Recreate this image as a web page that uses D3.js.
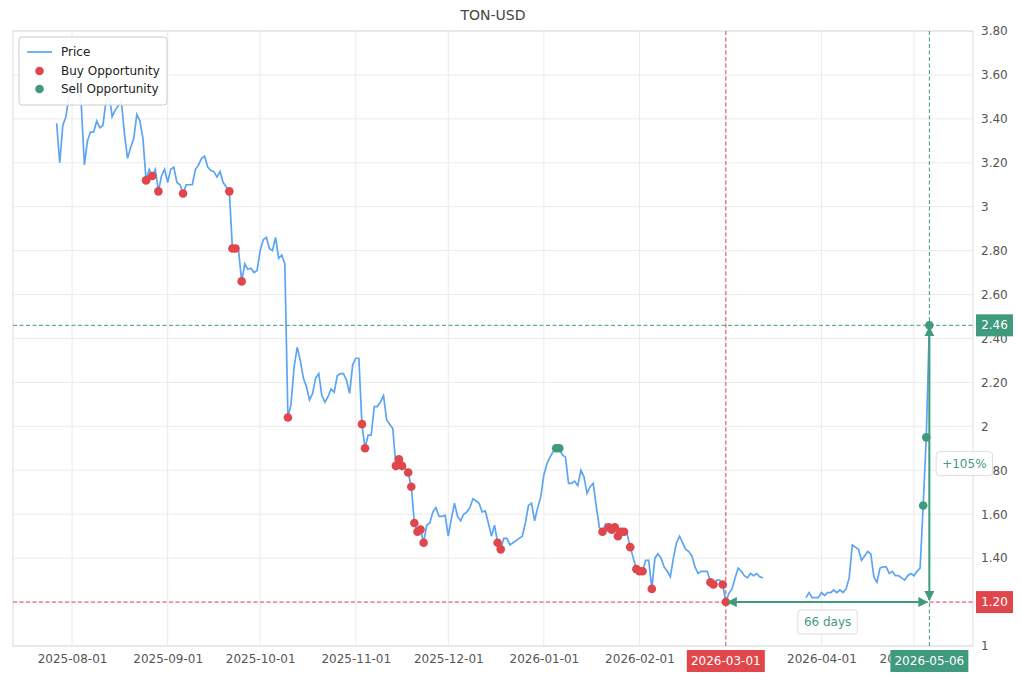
<!DOCTYPE html>
<html>
<head>
<meta charset="utf-8">
<script src="https://cdnjs.cloudflare.com/ajax/libs/d3/7.8.5/d3.min.js"></script>
<style>
  body { margin: 0; background: #fff; }
  svg { font-family: "DejaVu Sans", sans-serif; }
</style>
</head>
<body>
<div id="chart"></div>
<script>
// daily closing prices starting 2025-07-27, null = no data
const startDate = "2025-07-27"
const prices = [
    3.38, 3.20, 3.37, 3.41, 3.50, 3.58, 3.62, 3.55, 3.46, 3.19,
    3.30, 3.34, 3.34, 3.39, 3.36, 3.37, 3.48, 3.52, 3.41, 3.44,
    3.46, 3.48, 3.33, 3.22, 3.27, 3.31, 3.42, 3.39, 3.31, 3.12,
    3.17, 3.14, 3.17, 3.07, 3.14, 3.17, 3.11, 3.17, 3.18, 3.11,
    3.10, 3.06, 3.10, 3.10, 3.10, 3.17, 3.19, 3.22, 3.23, 3.18,
    3.165, 3.16, 3.135, 3.16, 3.11, 3.09, 3.07, 2.81, 2.81, 2.80,
    2.66, 2.74, 2.715, 2.72, 2.70, 2.71, 2.80, 2.85, 2.86, 2.81,
    2.80, 2.86, 2.765, 2.78, 2.74, 2.04, 2.10, 2.27, 2.36, 2.30,
    2.22, 2.18, 2.12, 2.15, 2.22, 2.24, 2.14, 2.11, 2.135, 2.17,
    2.155, 2.23, 2.24, 2.24, 2.21, 2.15, 2.28, 2.31, 2.31, 2.01,
    1.90, 1.96, 1.96, 2.09, 2.09, 2.11, 2.14, 2.03, 2.01, 1.99,
    1.82, 1.85, 1.82, 1.81, 1.79, 1.725, 1.56, 1.52, 1.53, 1.47,
    1.55, 1.56, 1.61, 1.63, 1.59, 1.59, 1.595, 1.50, 1.58, 1.65,
    1.59, 1.57, 1.60, 1.61, 1.63, 1.67, 1.66, 1.65, 1.61, 1.615,
    1.56, 1.50, 1.55, 1.47, 1.44, 1.49, 1.49, 1.46, 1.47, 1.48,
    1.49, 1.50, 1.56, 1.64, 1.65, 1.57, 1.63, 1.68, 1.78, 1.83,
    1.86, 1.885, 1.90, 1.90, 1.87, 1.86, 1.74, 1.74, 1.75, 1.73,
    1.80, 1.77, 1.695, 1.725, 1.74, 1.635, 1.54, 1.52, 1.555, 1.54,
    1.53, 1.54, 1.50, 1.52, 1.52, 1.51, 1.45, 1.40, 1.35, 1.34,
    1.34, 1.39, 1.39, 1.26, 1.40, 1.42, 1.40, 1.36, 1.34, 1.315,
    1.40, 1.47, 1.50, 1.47, 1.44, 1.43, 1.41, 1.36, 1.33, 1.34,
    1.34, 1.34, 1.29, 1.28, 1.30, 1.30, 1.28, 1.20, 1.24, 1.26,
    1.31, 1.355, 1.34, 1.32, 1.31, 1.33, 1.32, 1.33, 1.315, 1.31,
    null, null, null, null, null, null, null, null, null, null,
    null, null, null, 1.22, 1.243, 1.22, 1.22, 1.22, 1.243, 1.23,
    1.243, 1.243, 1.255, 1.243, 1.255, 1.243, 1.26, 1.31, 1.46, 1.45,
    1.44, 1.39, 1.41, 1.43, 1.42, 1.315, 1.29, 1.355, 1.36, 1.36,
    1.33, 1.34, 1.32, 1.32, 1.31, 1.30, 1.32, 1.33, 1.32, 1.34,
    1.355, 1.64, 1.95, 2.46
]

const buyDates = [
    "2025-08-25", "2025-08-27", "2025-08-29", "2025-09-06", "2025-09-21",
    "2025-09-22", "2025-09-23", "2025-09-25", "2025-10-10", "2025-11-03",
    "2025-11-04", "2025-11-14", "2025-11-15", "2025-11-16", "2025-11-18",
    "2025-11-19", "2025-11-20", "2025-11-21", "2025-11-22", "2025-11-23",
    "2025-12-17", "2025-12-18", "2026-01-20", "2026-01-22", "2026-01-23",
    "2026-01-24", "2026-01-25", "2026-01-26", "2026-01-27", "2026-01-29",
    "2026-01-31", "2026-02-01", "2026-02-02", "2026-02-05", "2026-02-24",
    "2026-02-25", "2026-02-28", "2026-03-01"
]
const sellDates = ["2026-01-05", "2026-01-06", "2026-05-04", "2026-05-05", "2026-05-06"]

// the highlighted trade
const entryDate = "2026-03-01"
const exitDate = "2026-05-06"

const yTicks = [1, 1.2, 1.4, 1.6, 1.8, 2, 2.2, 2.4, 2.6, 2.8, 3, 3.2, 3.4, 3.6, 3.8]

const colors = {line: "#5ca4f4", buy: "#e0474c", sell: "#3f9a7e", grid: "#ebebeb", text: "#555"}

const W = 1020, H = 680
const margin = {top: 31, right: 47, bottom: 34, left: 13}
const width = W - margin.left - margin.right
const height = H - margin.top - margin.bottom

const parse = d3.utcParse("%Y-%m-%d")
const fmtDate = d3.utcFormat("%Y-%m-%d")
const start = parse(startDate)

let series = prices.map((v, i) => ({date: d3.utcDay.offset(start, i), price: v}))
let byDate = new Map(series.map(d => [fmtDate(d.date), d]))

let buys = buyDates.map(s => byDate.get(s))
let sells = sellDates.map(s => byDate.get(s))
let entry = byDate.get(entryDate)
let exit = byDate.get(exitDate)

let svg = d3.select("#chart").append("svg")
    .attr("width", W)
    .attr("height", H)

// title
svg.append("text")
    .attr("x", margin.left + width / 2)
    .attr("y", 20)
    .attr("text-anchor", "middle")
    .attr("font-size", 14)
    .attr("fill", "#444")
    .text("TON-USD")

let g = svg.append("g")
    .attr("transform", `translate(${margin.left},${margin.top})`)

// scales (5% padding on time axis, like the original)
let ext = d3.extent(series, d => d.date)
let pad = (ext[1] - ext[0]) * 0.05
let x = d3.scaleUtc()
    .domain([new Date(+ext[0] - pad), new Date(+ext[1] + pad)])
    .range([0, width])
let y = d3.scaleLinear().domain([1, 3.8]).range([height, 0])

let monthTicks = d3.utcMonth.range(x.domain()[0], x.domain()[1])

// grid
g.append("g").selectAll("line")
    .data(yTicks)
    .enter().append("line")
    .attr("x1", 0).attr("x2", width)
    .attr("y1", d => y(d)).attr("y2", d => y(d))
    .attr("stroke", colors.grid)

g.append("g").selectAll("line")
    .data(monthTicks)
    .enter().append("line")
    .attr("x1", d => x(d)).attr("x2", d => x(d))
    .attr("y1", 0).attr("y2", height)
    .attr("stroke", colors.grid)

// axes
let xAxis = d3.axisBottom(x).tickValues(monthTicks).tickFormat(fmtDate).tickSize(0).tickPadding(8)
let yAxis = d3.axisRight(y).tickValues(yTicks).tickSize(0).tickPadding(8)
    .tickFormat(d => Math.abs(d - Math.round(d)) < 1e-9 ? String(Math.round(d)) : d.toFixed(2))

g.append("g")
    .attr("class", "x-axis")
    .attr("transform", `translate(0,${height})`)
    .call(xAxis)
g.append("g")
    .attr("class", "y-axis")
    .attr("transform", `translate(${width},0)`)
    .call(yAxis)

g.selectAll(".x-axis text, .y-axis text")
    .attr("font-family", "DejaVu Sans")
    .attr("font-size", 12)
    .attr("fill", colors.text)
g.selectAll(".domain").remove()

// frame
g.append("rect")
    .attr("width", width).attr("height", height)
    .attr("fill", "none")
    .attr("stroke", "#dcdcdc")

// price line
let line = d3.line()
    .defined(d => d.price !== null)
    .x(d => x(d.date))
    .y(d => y(d.price))

g.append("path")
    .datum(series)
    .attr("fill", "none")
    .attr("stroke", colors.line)
    .attr("stroke-width", 1.7)
    .attr("d", line)

// reference lines for the trade
function dashed(x1, y1, x2, y2, color) {
    g.append("line")
        .attr("x1", x1).attr("y1", y1).attr("x2", x2).attr("y2", y2)
        .attr("stroke", color)
        .attr("stroke-width", 1)
        .attr("stroke-dasharray", "4,2.5")
}
dashed(0, y(entry.price), width, y(entry.price), colors.buy)
dashed(x(entry.date), 0, x(entry.date), height, colors.buy)
dashed(0, y(exit.price), width, y(exit.price), colors.sell)
dashed(x(exit.date), 0, x(exit.date), height, colors.sell)

// markers
g.selectAll(".buy")
    .data(buys)
    .enter().append("circle")
    .attr("class", "buy")
    .attr("cx", d => x(d.date))
    .attr("cy", d => y(d.price))
    .attr("r", 4.3)
    .attr("fill", colors.buy)

g.selectAll(".sell")
    .data(sells)
    .enter().append("circle")
    .attr("class", "sell")
    .attr("cx", d => x(d.date))
    .attr("cy", d => y(d.price))
    .attr("r", 4.3)
    .attr("fill", colors.sell)

// arrows
let defs = svg.append("defs")
defs.append("marker")
    .attr("id", "arrow")
    .attr("viewBox", "0 0 10 10")
    .attr("refX", 9).attr("refY", 5)
    .attr("markerWidth", 5).attr("markerHeight", 5)
    .attr("markerUnits", "strokeWidth")
    .attr("orient", "auto-start-reverse")
    .append("path")
    .attr("d", "M0,0L10,5L0,10Z")
    .attr("fill", colors.sell)

let ex = x(entry.date), sx = x(exit.date)
let ey = y(entry.price), sy = y(exit.price)

g.append("line")
    .attr("x1", ex + 2).attr("y1", ey).attr("x2", sx - 2).attr("y2", ey)
    .attr("stroke", colors.sell).attr("stroke-width", 2)
    .attr("marker-start", "url(#arrow)").attr("marker-end", "url(#arrow)")

g.append("line")
    .attr("x1", sx).attr("y1", ey - 2).attr("x2", sx).attr("y2", sy + 2)
    .attr("stroke", colors.sell).attr("stroke-width", 2)
    .attr("marker-start", "url(#arrow)").attr("marker-end", "url(#arrow)")

// annotation boxes
function noteBox(cx, cy, txt) {
    let t = g.append("text")
        .attr("x", cx).attr("y", cy)
        .attr("text-anchor", "middle")
        .attr("dominant-baseline", "central")
        .attr("font-size", 12)
        .attr("fill", colors.sell)
        .text(txt)
    let bb = t.node().getBBox()
    g.insert("rect", () => t.node())
        .attr("x", bb.x - 6).attr("y", cy - 12)
        .attr("width", bb.width + 12).attr("height", 24)
        .attr("rx", 3)
        .attr("fill", "white")
        .attr("stroke", "#dddddd")
}

let days = Math.round((exit.date - entry.date) / 864e5)
let pct = Math.round((exit.price - entry.price) / entry.price * 100)
noteBox((ex + sx) / 2, ey + 20, `${days} days`)
noteBox(sx + 35, (ey + sy) / 2, `+${pct}%`)

// value / date tags on the axes
function tag(cx, cy, w, txt, color) {
    g.append("rect")
        .attr("x", cx - w / 2).attr("y", cy - 11)
        .attr("width", w).attr("height", 22)
        .attr("fill", color)
    g.append("text")
        .attr("x", cx).attr("y", cy)
        .attr("text-anchor", "middle")
        .attr("dominant-baseline", "central")
        .attr("font-size", 12)
        .attr("fill", "white")
        .text(txt)
}
tag(width + 21.5, sy, 37, exit.price.toFixed(2), colors.sell)
tag(width + 21.5, ey, 37, entry.price.toFixed(2), colors.buy)
tag(ex, height + 15, 78, fmtDate(entry.date), colors.buy)
tag(sx, height + 15, 78, fmtDate(exit.date), colors.sell)

// legend
let lg = svg.append("g").attr("transform", "translate(19,37)")
lg.append("rect")
    .attr("width", 148).attr("height", 68)
    .attr("rx", 3)
    .attr("fill", "white").attr("fill-opacity", 0.9)
    .attr("stroke", "#cccccc")
lg.append("line")
    .attr("x1", 8).attr("x2", 33).attr("y1", 15).attr("y2", 15)
    .attr("stroke", colors.line).attr("stroke-width", 1.7)
lg.append("circle").attr("cx", 20.5).attr("cy", 34).attr("r", 4.3).attr("fill", colors.buy)
lg.append("circle").attr("cx", 20.5).attr("cy", 52).attr("r", 4.3).attr("fill", colors.sell)
let labels = ["Price", "Buy Opportunity", "Sell Opportunity"]
lg.selectAll(".lab")
    .data(labels)
    .enter().append("text")
    .attr("x", 42)
    .attr("y", (d, i) => 15 + i * 18.5)
    .attr("dominant-baseline", "central")
    .attr("font-size", 12)
    .attr("fill", "#222")
    .text(d => d)
</script>
</body>
</html>
